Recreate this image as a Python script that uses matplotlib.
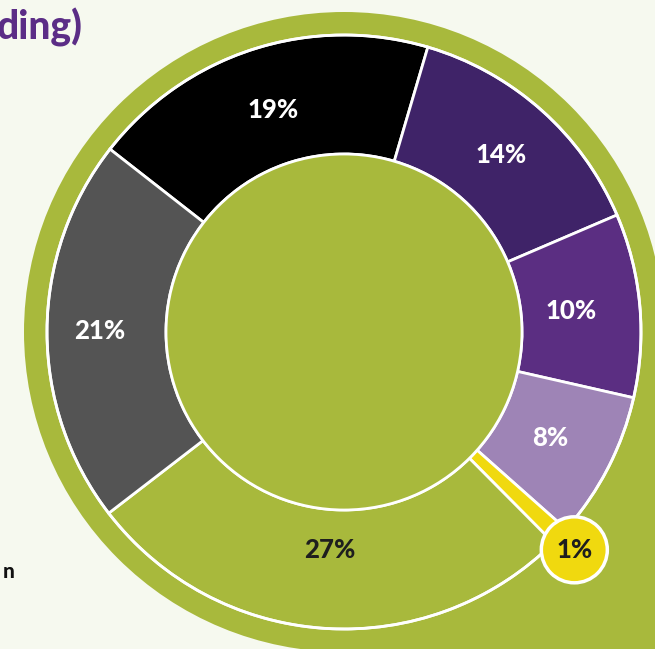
import matplotlib.pyplot as plt
from matplotlib.patches import Circle, Rectangle
import numpy as np

# Share of spending, clockwise from the upper left
labels = ['19%', '14%', '10%', '8%', '1%', '27%', '21%']
shares = [19, 14, 10, 8, 1, 27, 21]
colors = ['#000000', '#3f2368', '#5b2e82', '#9e84b6', '#f0d90f', '#a8b93c', '#545454']
text_colors = ['white', 'white', 'white', 'white', '#1e1e1e', '#1e1e1e', 'white']
label_r = [233, 237, 228, 232, 317, 218, 244]

BG = '#f6f9ef'
GREEN = '#a8b93c'
PURPLE = '#5b2d86'

W, H = 655, 649
cx, cy = 344, 317
r_out, r_in, r_ring = 297, 178, 320

fig = plt.figure(figsize=(W / 100, H / 100), dpi=100, facecolor=BG)
ax = fig.add_axes([0, 0, 1, 1])
ax.set_facecolor(BG)

# green backdrop: circle with a square bottom-right corner
ax.add_patch(Circle((cx, cy), r_ring, facecolor=GREEN, edgecolor='none', zorder=0))
ax.add_patch(Rectangle((cx, cy - r_ring), r_ring, r_ring, facecolor=GREEN,
                       edgecolor='none', zorder=0))

wedges, _ = ax.pie(shares, colors=colors, startangle=142, counterclock=False,
                   radius=r_out, center=(cx, cy),
                   wedgeprops=dict(width=r_out - r_in, edgecolor='white', linewidth=2))
for w in wedges:
    w.set_zorder(2)

ax.add_patch(Circle((cx, cy), r_out, facecolor='none', edgecolor='white', lw=2, zorder=3))
ax.add_patch(Circle((cx, cy), r_in, facecolor=GREEN, edgecolor='white', lw=2, zorder=3))

for w, lab, tc, rr in zip(wedges, labels, text_colors, label_r):
    ang = np.deg2rad((w.theta1 + w.theta2) / 2)
    x, y = cx + rr * np.cos(ang), cy + rr * np.sin(ang)
    if lab == '1%':
        ax.add_patch(Circle((x, y), 33, facecolor='#f0d90f', edgecolor='white',
                            lw=2.5, zorder=5))
    ax.text(x, y, lab, ha='center', va='center', color=tc, fontsize=18.5,
            fontweight='black', family='Lato', zorder=6)

# partial texts cut by the crop
ax.text(83, H - 27, 'ding)', ha='right', va='center', color=PURPLE, fontsize=28,
        fontweight='black', family='Lato')
ax.text(15, H - 572, 'n', ha='right', va='center', color='#111111', fontsize=15,
        fontweight='black', family='Lato')

ax.set_xlim(0, W)
ax.set_ylim(0, H)
ax.set_aspect('auto')
ax.axis('off')

fig.savefig('out.png', dpi=100, facecolor=BG)
